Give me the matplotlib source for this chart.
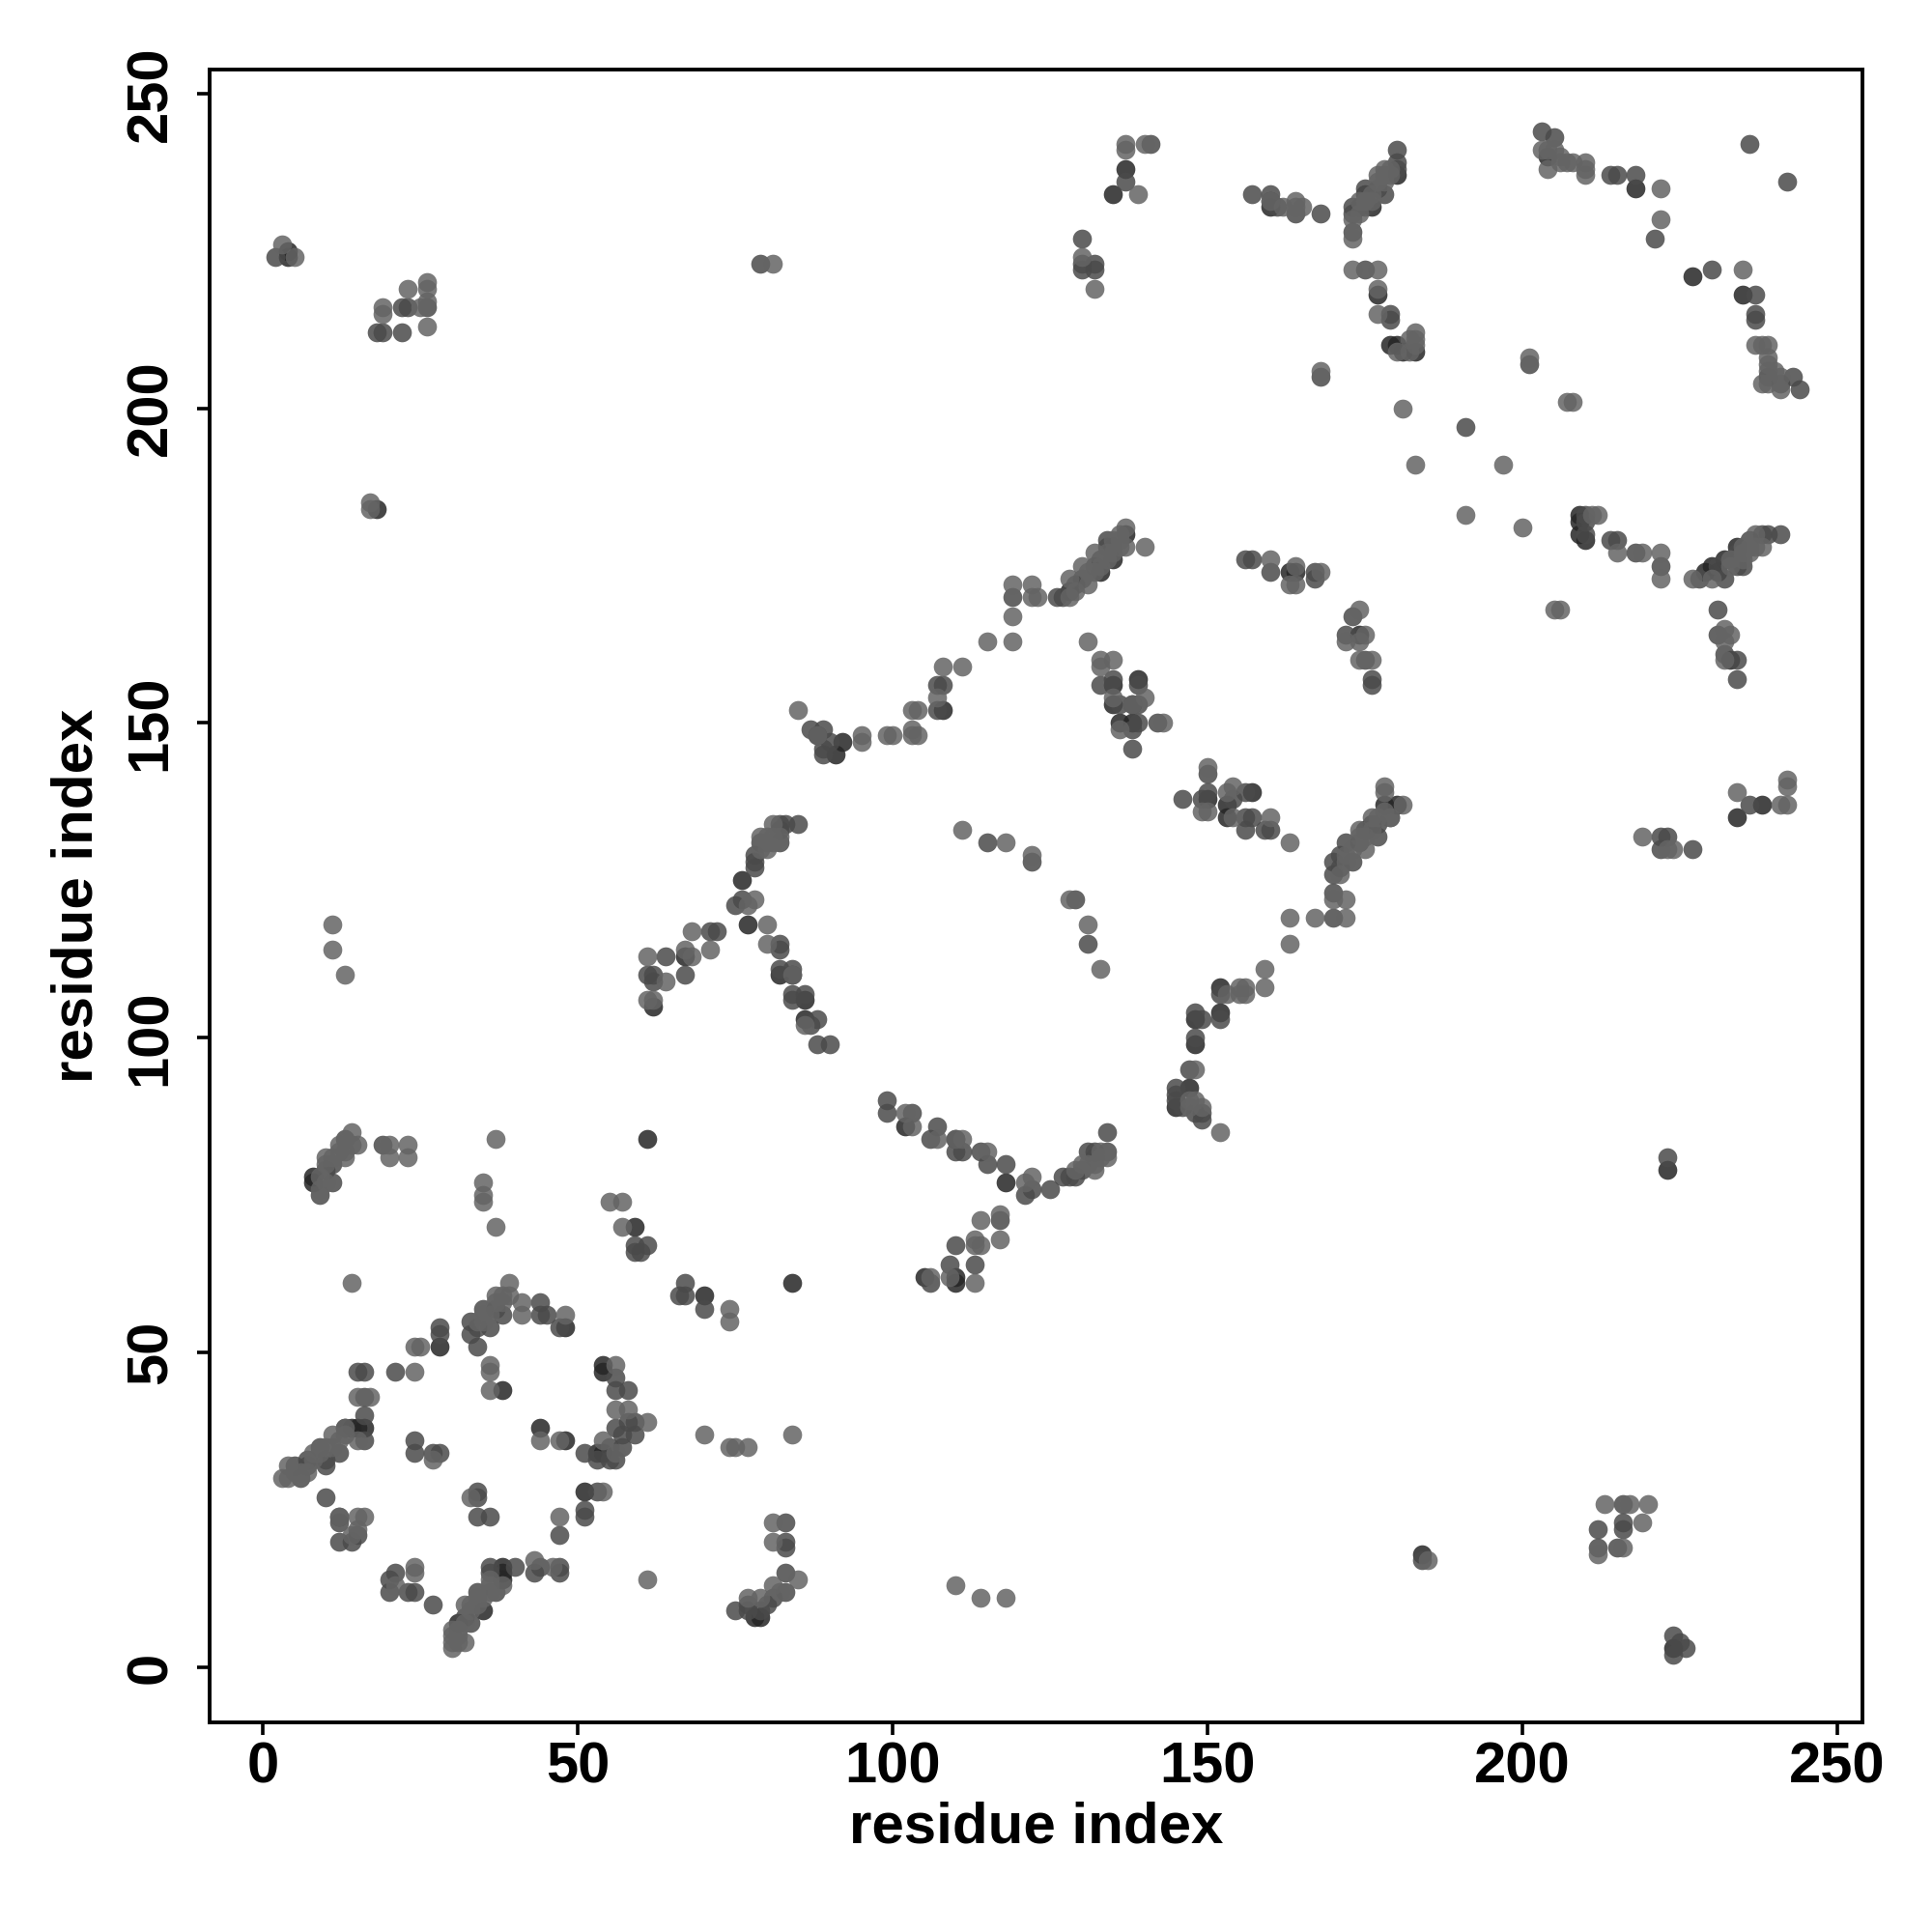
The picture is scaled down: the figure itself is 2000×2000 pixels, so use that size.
import matplotlib
matplotlib.use('Agg')
import matplotlib.pyplot as plt
import numpy as np

plt.rcParams['font.family'] = ['Liberation Sans', 'DejaVu Sans']

# contacts, grouped by how dark the dot is
dark = [(4,225),(4,224),(18,184),(38,16),(38,15),(38,14),(48,54),(48,36),(44,38),(38,44),(28,51),(14,38),(15,38),(16,38),
(13,38),(59,70),(70,59),(54,48),(54,47),(51,28),(84,61),(76,125),(77,118),(61,84),(118,77),(110,62),(110,61),(105,62),
(79,8),(78,8),(8,78),(8,77),(84,110),(82,110),(86,106),(86,103),(62,105),(67,113),(102,86),(110,84),
(135,234),(137,238),(160,232),(180,237),(175,234),(176,232),(179,210),(180,210),(181,209),(183,209),(177,218),(218,235),
(204,240),(239,205),(209,183),(209,182),(209,180),(210,179),(232,176),(233,160),(234,135),(238,137),(223,79),(227,221),
(235,218),(135,178),(135,176),(137,180),(133,174),(128,171),(164,174),(163,174),(174,164),(139,157),(138,153),(135,153),
(136,150),(138,150),(150,138),(153,137),(157,139),(153,135),(178,137),(180,137),(176,134),(175,133),(152,108),
(147,92),(145,89),(148,99),(148,103),(152,104),(91,145),(92,147),(88,148),(108,152),(135,156),(35,9),(31,7),(53,34),(54,34),
(224,3),(184,18),(229,174),(234,178),(230,175),(231,174)]

mid = [(2,224),(19,83),(9,75),(10,79),(11,77),(11,80),(13,84),(24,36),(24,34),(34,28),(34,27),(34,24),(36,24),(27,34),(28,34),
(21,47),(15,47),(16,47),(16,43),(16,40),(16,36),(28,54),(28,53),(10,27),(12,24),(12,23),(15,21),(14,20),(12,20),(21,15),
(20,14),(20,12),(23,12),(24,12),(27,10),(40,16),(36,16),(36,15),(37,12),(34,12),(43,15),(44,16),(47,16),(47,15),(37,57),(35,57),
(38,56),(33,55),(33,53),(34,54),(36,54),(34,51),(44,58),(44,56),(45,56),(47,54),(47,21),(51,25),(51,24),(53,28),(56,46),(56,44),
(58,44),(58,39),(59,39),(59,37),(56,38),(57,37),(51,34),(53,33),(55,33),(55,35),(57,35),(56,33),(6,30),(5,32),(7,32),(7,33),(10,32),
(10,33),(12,34),(9,35),(59,67),(61,67),(59,66),(60,66),(67,61),(66,59),(67,59),(70,57),(83,23),(83,20),(83,19),(83,15),(83,12),
(81,11),(79,9),(77,9),(77,10),(75,9),(80,10),(22,212),(22,216),(23,216),(26,216),(18,212),(19,212),(79,223),
(85,134),(82,134),(83,134),(82,133),(82,131),(79,131),(78,129),(78,128),(78,127),(76,122),(75,121),(72,117),(71,117),(64,113),
(61,110),(62,110),(67,110),(62,109),(82,115),(82,114),(82,111),(84,111),(84,107),(84,106),(86,107),(87,102),(88,103),(88,99),(90,99),
(99,90),(99,88),(103,88),(107,86),(106,84),(111,82),(110,82),(114,82),(118,80),(115,80),(121,75),(122,76),(125,76),(127,78),(128,78),(129,78),
(130,79),(132,81),(134,85),(134,82),(131,82),(132,82),(117,71),(113,64),(110,67),(109,64),(106,61),(115,131),(122,128),(129,122),(131,115),
(130,227),(130,223),(130,222),(132,223),(132,222),(137,236),(141,242),(157,234),(160,234),(160,233),(161,232),(164,231),(168,231),
(180,241),(180,239),(180,238),(177,235),(178,234),(175,235),(175,232),(173,232),(173,231),(173,228),(175,222),(179,215),(179,214),
(174,232),(203,244),(205,243),(214,237),(215,237),(218,237),(221,227),(236,242),(242,236),(230,222),(237,218),(237,215),(237,214),
(243,205),(244,203),(241,204),(201,207),(168,205),(191,197),(210,183),(210,182),(210,180),(214,179),(215,179),(218,177),(222,175),(228,173),
(232,173),(231,175),(234,176),(234,175),(234,177),(236,179),(238,180),(239,180),(241,180),(235,175),(231,168),(231,164),(232,161),(234,160),
(234,157),(236,137),(222,132),(223,132),(222,130),(227,130),(223,81),(212,22),(212,19),(216,26),(216,23),(216,22),(215,19),(225,4),(224,5),(226,3),
(184,17),(132,175),(134,179),(134,178),(130,173),(129,172),(127,170),(119,170),(126,170),(133,176),(160,174),(156,176),(157,176),
(167,174),(167,173),(172,164),(173,167),(175,160),(176,157),(176,156),(133,156),(135,157),(139,156),(136,153),(139,153),(139,150),(142,150),
(138,149),(138,146),(146,138),(150,142),(149,138),(150,139),(154,138),(156,139),(156,135),(157,135),(156,133),(160,133),(159,133),(177,134),
(177,132),(179,135),(174,131),(171,129),(173,128),(170,128),(171,127),(170,123),(170,119),(170,126),(152,107),(149,103),(152,103),(148,100),
(145,92),(145,91),(145,90),(146,89),(148,88),(149,88),(149,87),(148,104),(147,95),(87,149),(89,149),(89,146),(89,145),(90,147),(107,152),(107,156),(108,156),
(33,7),(32,8),(172,131),(224,2)]

light = [(3,226),(5,224),(23,219),(26,220),(26,219),(26,217),(19,216),(19,215),(25,216),(26,213),(17,185),(17,184),(81,223),(14,61),
(35,77),(35,75),(35,74),(37,70),(37,84),(55,74),(57,74),(57,70),(74,57),(74,55),(84,37),(70,37),(74,35),(75,35),(77,35),(61,14),(39,61),
(39,59),(37,59),(41,58),(41,56),(48,56),(35,56),(24,51),(25,51),(24,47),(15,43),(17,43),(15,36),(36,48),(36,47),(36,44),(27,33),(44,36),(47,36),
(56,48),(56,41),(58,41),(61,39),(54,36),(56,34),(54,28),(47,24),(33,27),(15,24),(16,24),(14,21),(12,24),(15,22),(43,17),(24,16),(24,15),(21,13),
(46,16),(38,13),(36,12),(34,11),(32,10),(30,6),(30,3),(32,4),(31,5),(3,30),(4,30),(4,32),(11,37),(13,38),(14,85),(12,83),(13,81),(15,83),(10,81),
(9,76),(20,83),(20,81),(23,83),(23,81),(11,118),(11,114),(13,110),(81,23),(81,20),(85,14),(81,13),(82,12),(79,11),(77,11),
(81,134),(79,132),(81,131),(80,130),(78,122),(77,121),(68,117),(71,114),(67,114),(68,113),(61,113),(64,109),(61,106),(62,106),(80,118),(80,115),
(84,110),(86,102),(102,88),(103,86),(107,84),(110,84),(111,84),(115,82),(117,72),(114,71),(113,68),(117,68),(114,67),(113,67),(109,62),(106,62),(113,61),
(121,77),(122,78),(129,79),(132,79),(130,80),(134,81),(111,133),(118,131),(122,129),(128,122),(131,118),(133,111),(85,152),(88,148),(95,148),(95,147),(99,148),
(100,148),(103,152),(104,152),(103,149),(103,148),(104,148),(107,154),(108,159),(111,159),(115,163),(119,163),(119,167),(119,172),(122,172),(122,170),(123,170),
(137,181),(137,178),(140,178),(135,179),(132,177),(135,177),(130,175),(131,172),(128,173),(128,170),(131,163),(133,160),(135,160),(133,159),(135,154),(136,149),
(138,153),(140,154),(143,150),(160,176),(164,175),(163,172),(164,172),(168,174),(174,168),(172,163),(174,163),(175,164),(174,160),(176,160),(191,183),(200,181),(181,200),
(183,191),(197,191),(150,143),(149,136),(150,136),(154,140),(153,139),(154,135),(160,135),(163,131),(178,140),(178,139),(181,137),(179,135),(176,135),(174,133),(175,130),
(171,126),(170,122),(172,122),(163,119),(167,119),(172,119),(163,115),(159,111),(159,108),(153,107),(155,108),(156,108),(155,107),(156,107),(148,95),(147,90),
(148,90),(147,89),(149,89),(152,85),(137,242),(137,241),(140,242),(139,234),(130,224),(132,219),(160,233),(162,232),(164,233),(164,232),(165,232),(178,238),(177,237),(178,236),
(176,233),(173,230),(174,231),(173,227),(173,222),(177,222),(177,219),(177,215),(180,209),(182,209),(183,210),(183,211),(183,212),(182,211),(168,206),(203,241),(204,241),
(204,238),(205,241),(206,240),(208,239),(210,239),(210,238),(210,237),(207,239),(206,239),(222,235),(222,230),(235,222),(238,210),(237,210),(239,210),(239,208),(239,207),
(239,206),(238,204),(239,204),(241,203),(240,206),(241,205),(201,208),(207,201),(208,201),(211,183),(212,183),(215,177),(219,177),(222,177),(222,173),(227,173),
(230,173),(235,178),(236,177),(237,178),(237,180),(238,178),(205,168),(206,168),(232,165),(232,163),(233,164),(232,160),(234,139),(242,141),(242,140),(241,137),(242,137),
(219,132),(223,130),(224,130),(213,26),(217,26),(220,26),(219,23),(212,18),(216,19),(185,17),(110,13),(114,11),(118,11),
(5,31),(6,31),(7,31),(8,33),(8,34),(9,34),(10,35),(11,35),(12,36),(13,37),(34,55),(35,55),(36,56),(37,58),(38,58),(38,59),
(32,7),(33,9),(33,10),(34,10),(35,11),(36,13),(36,14),(31,6),(30,5),(30,4),(31,4),(9,78),(10,80),(11,81),(12,82),(13,82),(10,77),(14,83),
(172,128),(172,129),(173,130),(174,132),(175,132),(176,133),(177,135),(178,136),(129,171),(131,174),(132,174),(133,175),(134,176),(134,177),(136,178),(136,179),(136,180),
(174,233),(175,233),(176,234),(177,236),(178,237),(179,237),(179,238),(79,130),(80,131),(80,132),(81,132),(82,132),(233,175),(233,176),(235,176),(235,177),(236,178),
(131,80),(132,80),(133,81),(133,82)]

x_ticks = [0, 50, 100, 150, 200, 250]
y_ticks = [0, 50, 100, 150, 200, 250]
axis_name = 'residue index'

fig = plt.figure(figsize=(10, 10), dpi=200)
ax = fig.add_axes([217/2000, 1-1783/2000, (1928-217)/2000, (1783-72)/2000])

# darkest first, the light dots sit on top of them like in the original
for pts, g in [(dark, 38), (mid, 74), (light, 100)]:
    pts = np.array(pts)
    c = (g/255, g/255, g/255)
    ax.scatter(pts[:, 0], pts[:, 1], s=50, color=c, alpha=0.85, linewidths=0, zorder=3)

ax.set_xlim(-8.48, 254)
ax.set_ylim(-8.75, 253.8)
ax.set_xticks(x_ticks)
ax.set_yticks(y_ticks)
ax.tick_params(axis='both', length=4.7, width=1.3, labelsize=21.5)
ax.tick_params(axis='x', pad=2.5)
ax.tick_params(axis='y', pad=17)
for t in ax.get_xticklabels():
    t.set_fontweight('bold')
for t in ax.get_yticklabels():
    t.set_fontweight('bold')
    t.set_rotation(90)
    t.set_va('center')
    t.set_rotation_mode('anchor')
    t.set_ha('center')
for s in ax.spines.values():
    s.set_linewidth(1.4)

fig.text(1073/2000, 1-1892/2000, axis_name, fontsize=21.6, fontweight='bold', ha='center', va='center')
fig.text(80/2000, 1-927/2000, axis_name, fontsize=21.6, fontweight='bold', ha='center', va='center', rotation=90)

fig.savefig('out.png', dpi=200)
